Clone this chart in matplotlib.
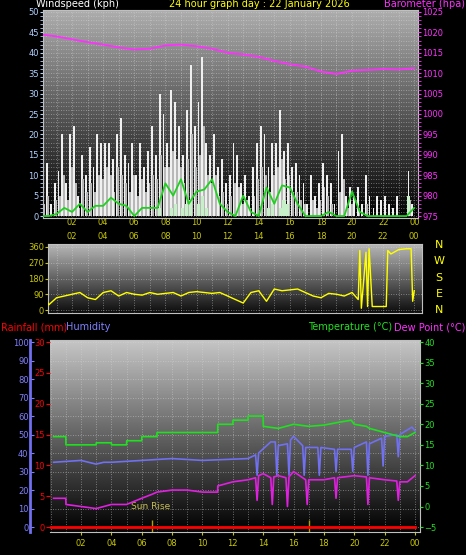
import matplotlib
matplotlib.use("Agg")
import matplotlib.pyplot as plt
import numpy as np

# ---- data ----
gust_hours = np.arange(96) * 0.25 + 0.125
gust_kph = [5, 13, 3, 8, 11, 20, 8, 20, 22, 5, 15, 10, 17, 12, 20, 18,
            18, 18, 14, 20, 24, 15, 13, 18, 10, 18, 12, 16, 22, 15, 30, 25,
            18, 31, 28, 22, 15, 26, 37, 22, 28, 39, 18, 15, 20, 12, 14, 8,
            10, 18, 15, 8, 10, 5, 12, 18, 22, 20, 12, 18, 18, 26, 16, 18,
            12, 13, 10, 8, 3, 10, 5, 8, 13, 10, 8, 3, 16, 20, 5, 7,
            5, 7, 3, 10, 5, 2, 5, 4, 5, 3, 2, 5, 0, 0, 11, 3]
gust_low = [3, 5, 0, 4, 5, 10, 4, 12, 8, 2, 9, 6, 8, 6, 10, 9,
            12, 10, 6, 12, 10, 8, 6, 10, 5, 9, 6, 8, 10, 9, 15, 12,
            12, 16, 14, 12, 8, 14, 20, 12, 15, 22, 10, 8, 10, 5, 6, 3,
            5, 8, 7, 3, 4, 2, 5, 9, 12, 10, 6, 10, 12, 14, 9, 10,
            6, 6, 4, 3, 0, 4, 2, 4, 7, 5, 3, 0, 6, 9, 2, 3,
            0, 2, 0, 3, 0, 0, 0, 0, 0, 0, 0, 0, 0, 0, 4, 0]
lull_kph = [0] * 28 + [0, 0, 2, 0, 0, 2, 3, 0, 2, 3, 4, 0, 3, 5, 2, 0] + [0] * 12 + \
           [0, 0, 2, 3, 0, 2, 4, 3] + [0] * 28 + [0, 0, 5, 0]

avg_hours = np.arange(49) * 0.5
avg_kph = [0, 0, 0.5, 2, 1, 3, 1, 2.5, 2.5, 4.5, 3, 2.5, 0, 2, 2, 2, 8, 5, 9, 3,
           6, 6.5, 9, 3, 1, 0, 5, 1, 0, 7, 3, 7.5, 7, 3, 0, 0, 0, 1, 0, 0,
           6, 1, 0, 0, 0, 0, 0, 0, 2]

baro_hours = np.arange(25)
baro_hpa = [1019.5, 1019, 1018.3, 1017.6, 1017, 1016.3, 1015.8, 1016, 1016.8, 1017,
            1016.6, 1016, 1015, 1014.6, 1014, 1013, 1012.2, 1011.6, 1010.4, 1009.8,
            1010.6, 1010.8, 1011, 1010.9, 1011.2]

dir_hours = [0.1, 0.5, 1, 1.5, 2, 2.5, 3, 3.5, 4, 4.5, 5, 5.5, 6, 6.5, 7, 7.5, 8, 8.5,
             9, 9.5, 10, 10.5, 11, 11.5, 12, 12.5, 13, 13.5, 14, 14.5, 15, 15.5, 16,
             16.5, 17, 17.5, 18, 18.5, 19, 19.5, 20, 20.4, 20.5, 20.6, 20.9, 21.0,
             21.1, 21.3, 22.2, 22.3, 22.5, 23, 23.5, 23.8, 23.9, 24]
dir_deg = [100, 30, 70, 80, 90, 100, 70, 60, 100, 110, 80, 100, 90, 85, 100, 90,
           95, 100, 80, 100, 105, 100, 95, 100, 80, 60, 40, 100, 110, 50, 120, 110,
           115, 120, 100, 80, 70, 95, 90, 80, 100, 60, 340, 10, 330, 20, 350, 20,
           20, 340, 320, 345, 350, 350, 50, 110]

temp_hours = [0.2, 1, 1.01, 3, 3.01, 4, 4.01, 5, 5.01, 6, 6.01, 7, 7.01, 11, 11.01,
              12, 12.01, 13, 13.01, 14, 14.01, 15, 16, 17, 18, 19, 19.8, 20, 20.8,
              21, 22, 23, 23.5, 24]
temp_c = [17, 17, 15, 15, 15.5, 15.5, 15, 15, 16, 16, 17, 17, 18, 18, 20,
          20, 21, 21, 22, 22, 19.5, 19, 20, 19.5, 19.8, 20.5, 21, 20, 19.5,
          19, 18, 17, 17, 18]

hum_hours = [0.2, 2, 3, 3.5, 4, 6, 8, 10, 13, 13.5, 13.6, 13.7, 14.5, 14.8, 14.9,
             15, 15.6, 15.7, 15.8, 16, 16.6, 16.7, 16.8, 17, 17.6, 17.7, 17.8,
             18.7, 18.8, 18.9, 19.8, 19.9, 20, 20.8, 20.9, 21, 21.8, 21.9, 22,
             22.8, 22.9, 23, 23.8, 24]
hum_pct = [35, 36, 34, 35, 35, 36, 37, 36, 37, 39, 28, 40, 46, 46, 28, 44,
           45, 28, 47, 49, 44, 28, 43, 43, 43, 28, 43, 42, 30, 42, 42, 30, 43,
           46, 28, 45, 48, 33, 49, 50, 38, 50, 54, 52]

dew_hours = [0.2, 1, 1.01, 3, 4, 5, 6, 6.7, 7, 8, 9, 10, 11, 11.01, 12, 13, 13.5,
             13.6, 13.7, 14, 14.5, 14.6, 14.7, 15, 15.5, 15.6, 15.7, 16, 16.8,
             16.9, 17, 18, 18.7, 18.8, 18.9, 20, 20.8, 20.9, 21, 22, 22.8, 22.9,
             23, 23.5, 24]
dew_c = [2, 2, 0.5, -0.5, 0.5, 0.5, 2, 3, 3.5, 4, 4, 3.5, 3.5, 5, 6, 6.5, 7,
         1.5, 7.5, 8, 7, 0.5, 7.2, 7.5, 7, 0, 7.2, 8.5, 6.5, 0.5, 6.5, 6.5, 7,
         2, 7, 7.5, 7.2, 0.5, 7, 6.5, 6.2, 1.5, 6, 6, 7.5]

rain_hours = [0, 24]
rain_mm = [0, 0]
sun_hours = [6.7, 17.0]

YEL = "#c8c800"
GRID = dict(color="#d8d8d8", linestyle=(0, (1, 2)), linewidth=0.6, alpha=0.6)


def gradient_bg(ax, top=0.8, bottom=0.0):
    grad = np.linspace(top, bottom, 256).reshape(-1, 1)
    ax.imshow(grad, extent=[0, 1, 0, 1], transform=ax.transAxes, aspect="auto",
              cmap="gray", vmin=0, vmax=1, zorder=0)


def style_axes(ax):
    ax.set_facecolor("black")
    for s in ax.spines.values():
        s.set_color("#c0c0c0")
    ax.set_xticks(range(2, 25, 2))
    ax.set_xticks(range(0, 25), minor=True)
    ax.grid(True, which="both", **GRID)
    ax.tick_params(colors=YEL, labelsize=6, length=2, pad=1)


fig = plt.figure(figsize=(4.66, 5.55), dpi=100)
fig.patch.set_facecolor("black")
W, H = 466, 555


def rect(l, t, r, b):
    return [l / W, (H - b) / H, (r - l) / W, (b - t) / H]


hour_labels = ["%02d" % (h % 24) for h in range(2, 25, 2)]

# ---- wind / barometer ----
ax1 = fig.add_axes(rect(43, 10, 418, 218))
style_axes(ax1)
gradient_bg(ax1, 0.68, 0.0)
ax1.bar(gust_hours, gust_kph, width=0.12, color="#f0f0f0", zorder=2)
ax1.bar(gust_hours + 0.1, gust_low, width=0.12, color="#b8b8b8", zorder=2)
ax1.bar(gust_hours, lull_kph, width=0.2, color="#c8f0c8", zorder=3)
ax1.plot(avg_hours, avg_kph, color="#20d020", linewidth=1.3, zorder=4)
ax1.set_xlim(0.13, 24.24)
ax1.set_ylim(-0.48, 50.48)
ax1.set_yticks(range(0, 51, 5))
ax1.set_yticks(range(0, 51, 1), minor=True)
ax1.tick_params(axis="y", colors="#b0d0ff", which="both")
ax1.tick_params(axis="x", which="both", length=0, pad=0)
ax1.set_xticklabels(hour_labels)
ax1b = ax1.twinx()
ax1b.plot(baro_hours, baro_hpa, color="#ff30ff", linewidth=1.3, zorder=5)
ax1b.set_ylim(974.52, 1025.48)
ax1b.set_yticks(range(975, 1026, 5))
ax1b.set_yticks(range(975, 1026, 1), minor=True)
ax1b.tick_params(axis="y", colors="#ff30ff", labelsize=6, which="both", length=2, pad=1)
for s in ax1b.spines.values():
    s.set_visible(False)

fig.text(36 / W, 1 - 4 / H, "Windspeed (kph)", color="white", fontsize=7, va="center")
fig.text(259 / W, 1 - 4 / H, "24 hour graph day : 22 January 2026", color="yellow",
         fontsize=7, va="center", ha="center")
fig.text(465 / W, 1 - 4 / H, "Barometer (hpa)", color="#ff30ff", fontsize=7,
         va="center", ha="right")

# ---- wind direction ----
ax2 = fig.add_axes(rect(48, 244, 422, 313))
style_axes(ax2)
gradient_bg(ax2, 0.72, 0.05)
ax2.plot(dir_hours, dir_deg, color="yellow", linewidth=1.0, zorder=3)
ax2.set_xlim(0.45, 24.5)
ax2.set_ylim(-17, 377)
ax2.set_yticks([0, 90, 180, 270, 360])
ax2.xaxis.tick_top()
ax2.tick_params(axis="x", which="both", length=0, pad=2)
ax2.set_xticklabels(hour_labels)
for i, c in enumerate("NWSEN"):
    fig.text(439 / W, 1 - (245 + i * 16.3) / H, c, color="yellow", fontsize=8, ha="center", va="center")

# ---- temperature / humidity / rain ----
ax3 = fig.add_axes(rect(50, 340, 420, 532))
style_axes(ax3)
gradient_bg(ax3, 0.78, 0.0)
ax3.plot(hum_hours, hum_pct, color="#7070f0", linewidth=1.2, zorder=3)
ax3.set_xlim(-0.04, 24.33)
ax3.set_ylim(-2.7, 101.1)
ax3.set_yticks(range(0, 101, 10))
ax3.spines["left"].set_position(("outward", 14.4))
ax3.spines["left"].set_color("#7070f0")
ax3.spines["left"].set_linewidth(2)
ax3.tick_params(axis="y", colors="#8080ff", direction="in", length=3)
ax3.tick_params(axis="x", pad=3)
ax3.set_xticklabels(hour_labels)

ax3t = ax3.twinx()
ax3t.plot(temp_hours, temp_c, color="#20e020", linewidth=1.2, zorder=4)
ax3t.plot(dew_hours, dew_c, color="#e020e0", linewidth=1.2, zorder=4)
ax3t.vlines(sun_hours, -6.2, -3.3, color="#b0a000", linewidth=1.0)
ax3t.text(5.3, -0.6, "Sun Rise", color="#c8c050", fontsize=6.5)
ax3t.set_ylim(-6.2, 40.5)
ax3t.set_yticks(range(-5, 41, 5))
ax3t.tick_params(axis="y", colors="#20e020", labelsize=6, length=2, pad=1)
for s in ax3t.spines.values():
    s.set_visible(False)

ax3r = ax3.twinx()
ax3r.plot(rain_hours, rain_mm, color="red", linewidth=2.0, zorder=5)
ax3r.set_ylim(-0.81, 30.33)
ax3r.set_yticks(range(0, 31, 5))
ax3r.yaxis.tick_left()
ax3r.tick_params(axis="y", colors="red", labelsize=6, length=3, pad=1)
for s in ax3r.spines.values():
    s.set_visible(False)

fig.text(1 / W, 1 - 327 / H, "Rainfall (mm)", color="red", fontsize=7, va="center")
fig.text(66 / W, 1 - 327 / H, "Humidity", color="#8080ff", fontsize=7, va="center")
fig.text(392 / W, 1 - 327 / H, "Temperature (\u00b0C)", color="#20e020", fontsize=7,
         va="center", ha="right")
fig.text(465 / W, 1 - 327 / H, "Dew Point (\u00b0C)", color="#ff30ff", fontsize=7,
         va="center", ha="right")

fig.savefig("out.png", dpi=100, facecolor="black")
